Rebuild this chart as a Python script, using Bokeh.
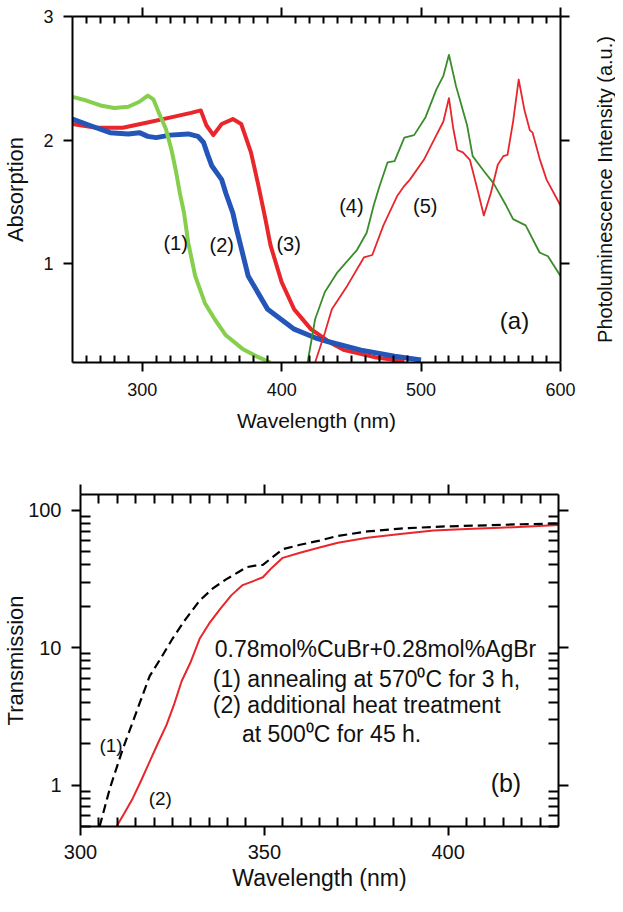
from bokeh.plotting import figure
from bokeh.layouts import column, row
from bokeh.models import (Range1d, LinearAxis, LogAxis, FixedTicker, Label,
                          CustomJSTickFormatter, PrintfTickFormatter)
from bokeh.embed import file_html
from bokeh.resources import INLINE

FONT = "Liberation Sans"

# ---------------- (a) absorption / photoluminescence ----------------
abs1_wl = [250, 260, 270, 280, 290, 298, 304, 308, 312, 317, 321, 324, 327, 330,
           333, 338, 345, 352, 360, 372, 382, 392]
abs1_val = [2.35, 2.32, 2.28, 2.26, 2.27, 2.31, 2.36, 2.33, 2.22, 2.09, 1.92, 1.76,
            1.57, 1.41, 1.17, 0.90, 0.68, 0.55, 0.42, 0.31, 0.25, 0.20]

abs2_wl = [250, 262, 277, 290, 298, 304, 310, 320, 333, 340, 344, 347, 350, 357,
           360, 365, 367, 376, 390, 409, 424, 433, 457, 481, 500]
abs2_val = [2.17, 2.12, 2.06, 2.05, 2.06, 2.03, 2.02, 2.04, 2.05, 2.03, 1.98, 1.88,
            1.79, 1.68, 1.57, 1.41, 1.31, 0.90, 0.63, 0.47, 0.40, 0.37, 0.30, 0.25, 0.22]

abs3_wl = [250, 267, 286, 303, 319, 335, 342, 346, 351, 357, 365, 371, 378, 383,
           388, 392, 400, 409, 421, 435, 445, 468, 488]
abs3_val = [2.13, 2.10, 2.10, 2.14, 2.18, 2.22, 2.24, 2.12, 2.04, 2.13, 2.17, 2.13,
            1.90, 1.65, 1.38, 1.15, 0.85, 0.63, 0.47, 0.36, 0.30, 0.24, 0.21]

pl4_wl = [418.6, 424, 431, 440, 454, 461, 466, 470, 476, 481, 488, 495, 503, 511,
          516, 520, 525, 533, 537, 545, 552, 561, 566, 575, 585, 591, 600]
pl4_val = [0.20, 0.55, 0.77, 0.93, 1.11, 1.25, 1.47, 1.62, 1.82, 1.83, 2.02, 2.04,
           2.18, 2.41, 2.52, 2.69, 2.44, 2.12, 1.87, 1.75, 1.65, 1.47, 1.36, 1.31,
           1.09, 1.06, 0.90]

pl5_wl = [424, 431, 436, 447, 459, 465, 473, 483, 488, 492, 502, 511, 516, 520,
          523, 526, 530, 535, 540, 545, 550, 555, 559, 562, 566, 570, 574, 578,
          580, 585, 590, 600]
pl5_val = [0.20, 0.44, 0.63, 0.82, 1.05, 1.07, 1.31, 1.55, 1.63, 1.68, 1.84, 2.04,
           2.15, 2.34, 2.10, 1.92, 1.90, 1.84, 1.62, 1.39, 1.57, 1.80, 1.87, 1.88,
           2.15, 2.49, 2.25, 2.08, 2.06, 1.85, 1.68, 1.47]

a_xticks = [300, 400, 500, 600]
a_yticks = [1, 2, 3]
pl_title = "Photoluminescence Intensity (a.u.)"

# ---------------- (b) transmission ----------------
tr1_wl = [305.2, 308, 311.5, 315.2, 318.8, 322, 325, 328.5, 332.4, 336, 339.7, 343,
          345.2, 347.5, 349.6, 352, 355, 359.7, 365, 370, 378, 387, 398, 410, 420, 430]
tr1_val = [0.5, 0.95, 1.83, 3.4, 6.2, 8.5, 11.6, 16.0, 22.0, 27.0, 31.5, 35.5, 38.5,
           39.5, 40.0, 45.0, 52.0, 56.0, 60.0, 65.0, 70.0, 73.5, 76.0, 77.5, 79.0, 80.0]

tr2_wl = [309.8, 312, 314.2, 316.5, 318.8, 321, 323.4, 325.5, 327.5, 330, 332.4, 335,
          337.9, 341, 344.1, 347, 349.6, 352, 355, 359.7, 365, 370, 378, 387, 396,
          405, 414, 422, 430]
tr2_val = [0.5, 0.63, 0.80, 1.08, 1.48, 2.0, 2.74, 3.9, 5.7, 7.9, 11.6, 15.0, 19.0,
           24.0, 28.5, 30.5, 32.5, 38.0, 45.0, 49.0, 53.5, 58.0, 63.0, 67.0, 71.0,
           73.0, 74.5, 76.0, 78.0]

b_xticks = [300, 350, 400]
b_yticks = [1, 10, 100]

note_lines = ["0.78mol%CuBr+0.28mol%AgBr",
              "(1) annealing at 570\u2070C for 3 h,",
              "(2) additional heat treatment",
              "at 500\u2070C for 45 h."]

BLANK = "return ''"


def style_axis(ax, tick_size, tick_in_minor, labelled=True, label_size="18px",
               standoff=10):
    ax.axis_line_width = 2
    ax.axis_line_color = "black"
    ax.major_tick_line_width = 2
    ax.minor_tick_line_width = 2
    ax.major_tick_in = 0
    ax.major_tick_out = tick_size
    ax.minor_tick_in = tick_in_minor
    ax.minor_tick_out = 0
    ax.major_label_text_font = FONT
    ax.axis_label_text_font = FONT
    ax.axis_label_text_font_style = "normal"
    ax.axis_label_text_color = "#111111"
    ax.major_label_text_color = "#111111"
    if labelled:
        ax.major_label_text_font_size = label_size
        ax.major_label_standoff = standoff
    else:
        ax.formatter = CustomJSTickFormatter(code=BLANK)
        ax.major_label_text_font_size = "0px"
        ax.major_label_standoff = 0
    return ax


# ======== figure (a) ========
p1 = figure(width=588, height=442, output_backend="svg", toolbar_location=None,
            x_range=Range1d(250, 600), y_range=Range1d(0.2, 3),
            x_axis_location=None, y_axis_location=None,
            min_border_left=68, min_border_right=28, min_border_top=16,
            min_border_bottom=80)
p1.grid.visible = False
p1.outline_line_color = None

a_xminor = [v for v in range(260, 600, 10) if v not in a_xticks]

bx = style_axis(LinearAxis(ticker=FixedTicker(ticks=a_xticks, minor_ticks=a_xminor)),
                9, 7, True, "18px", 11)
bx.axis_label = "Wavelength (nm)"
bx.axis_label_text_font_size = "21px"
bx.axis_label_standoff = 10
p1.add_layout(bx, "below")

tx = style_axis(LinearAxis(ticker=FixedTicker(ticks=a_xticks, minor_ticks=a_xminor)),
                9, 7, False)
p1.add_layout(tx, "above")

ly = style_axis(LinearAxis(ticker=FixedTicker(ticks=a_yticks, minor_ticks=[])),
                9, 0, True, "18px", 10)
ly.axis_label = "Absorption"
ly.axis_label_text_font_size = "22px"
ly.axis_label_standoff = 12
p1.add_layout(ly, "left")

ry = style_axis(LinearAxis(ticker=FixedTicker(ticks=a_yticks, minor_ticks=[])),
                9, 0, False)
p1.add_layout(ry, "right")

p1.line(abs3_wl, abs3_val, line_color="#e8262b", line_width=4, line_join="round")
p1.line(abs2_wl, abs2_val, line_color="#2356b8", line_width=5, line_join="round")
p1.line(abs1_wl, abs1_val, line_color="#86cf4c", line_width=4, line_join="round")
p1.line(pl4_wl, pl4_val, line_color="#3a8c2c", line_width=1.8, line_join="round")
p1.line(pl5_wl, pl5_val, line_color="#e8262b", line_width=1.8, line_join="round")

for txt, x, y, size in [("(1)", 324, 1.17, "20px"), ("(2)", 357, 1.15, "20px"),
                        ("(3)", 405, 1.16, "20px"), ("(4)", 450, 1.47, "20px"),
                        ("(5)", 503, 1.47, "20px"), ("(a)", 567, 0.54, "24px")]:
    p1.add_layout(Label(x=x, y=y, text=txt, text_font=FONT, text_font_size=size,
                        text_align="center", text_baseline="middle",
                        text_color="#111111"))

# narrow strip carrying the right-hand axis title (reads bottom to top)
p_lab = figure(width=27, height=442, output_backend="svg", toolbar_location=None,
               x_range=Range1d(0, 1), y_range=p1.y_range,
               x_axis_location=None, y_axis_location=None,
               min_border_left=22, min_border_right=0, min_border_top=16,
               min_border_bottom=80)
p_lab.grid.visible = False
p_lab.outline_line_color = None
lab_ax = LinearAxis(ticker=FixedTicker(ticks=[]),
                    formatter=CustomJSTickFormatter(code=BLANK),
                    axis_line_color=None, major_tick_line_color=None,
                    minor_tick_line_color=None, major_tick_in=0, major_tick_out=0,
                    minor_tick_in=0, minor_tick_out=0,
                    major_label_text_font_size="0px", major_label_standoff=0,
                    axis_label=pl_title, axis_label_text_font=FONT,
                    axis_label_text_font_size="20px",
                    axis_label_text_font_style="normal",
                    axis_label_text_color="#111111", axis_label_standoff=-5)
p_lab.add_layout(lab_ax, "left")

# ======== figure (b) ========
p2 = figure(width=615, height=452, output_backend="svg", toolbar_location=None,
            x_range=Range1d(300, 430), y_range=Range1d(0.5, 130),
            y_axis_type="log",
            x_axis_location=None, y_axis_location=None,
            min_border_left=73, min_border_right=57, min_border_top=52,
            min_border_bottom=68)
p2.grid.visible = False
p2.outline_line_color = None

b_xminor = [v for v in range(305, 430, 5) if v not in b_xticks]
b_yminor = [0.5, 0.6, 0.7, 0.8, 0.9] + list(range(2, 10)) + list(range(20, 100, 10))

bx2 = style_axis(LinearAxis(ticker=FixedTicker(ticks=b_xticks, minor_ticks=b_xminor)),
                 9, 9, True, "20px", 9)
bx2.axis_label = "Wavelength (nm)"
bx2.axis_label_text_font_size = "23px"
bx2.axis_label_standoff = 3
p2.add_layout(bx2, "below")

tx2 = style_axis(LinearAxis(ticker=FixedTicker(ticks=b_xticks, minor_ticks=b_xminor)),
                 10, 9, False)
p2.add_layout(tx2, "above")

ly2 = style_axis(LogAxis(ticker=FixedTicker(ticks=b_yticks, minor_ticks=b_yminor),
                         formatter=PrintfTickFormatter(format="%d")),
                 9, 10, True, "20px", 10)
ly2.axis_label = "Transmission"
ly2.axis_label_text_font_size = "22px"
ly2.axis_label_standoff = -3
p2.add_layout(ly2, "left")

ry2 = style_axis(LogAxis(ticker=FixedTicker(ticks=b_yticks, minor_ticks=b_yminor)),
                 10, 10, False)
p2.add_layout(ry2, "right")

p2.line(tr2_wl, tr2_val, line_color="#e8262b", line_width=2, line_join="round")
p2.line(tr1_wl, tr1_val, line_color="black", line_width=2.2, line_dash="9 5",
        line_join="round")

for txt, x, y in [(note_lines[0], 336.5, 9.72), (note_lines[1], 336.0, 5.9),
                  (note_lines[2], 336.0, 3.82), (note_lines[3], 343.9, 2.36)]:
    p2.add_layout(Label(x=x, y=y, text=txt, text_font=FONT, text_font_size="23px",
                        text_align="left", text_baseline="alphabetic",
                        text_color="#111111"))

for txt, x, y, size in [("(1)", 308.3, 1.94, "19px"), ("(2)", 321.7, 0.80, "19px"),
                        ("(b)", 415.7, 1.03, "25px")]:
    p2.add_layout(Label(x=x, y=y, text=txt, text_font=FONT, text_font_size=size,
                        text_align="center", text_baseline="middle",
                        text_color="#111111"))

layout = column(row(p1, p_lab), p2)
open("out.html", "w").write(file_html(layout, INLINE))
